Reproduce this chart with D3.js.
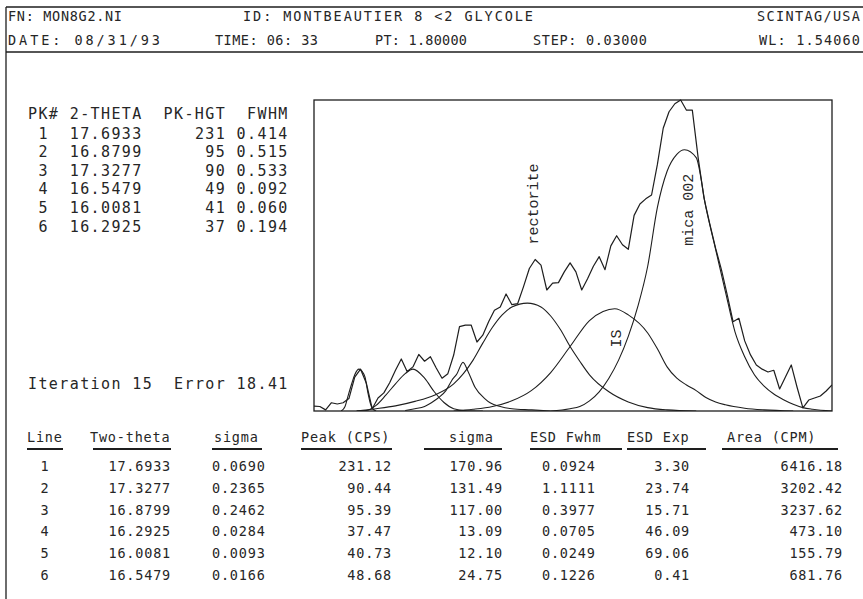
<!DOCTYPE html>
<html><head><meta charset="utf-8">
<script src="https://cdn.jsdelivr.net/npm/d3@7"></script>
<style>
body{margin:0;background:#fff}
svg{display:block}
text{font-family:"DejaVu Sans Mono",monospace;fill:#262626;white-space:pre}
</style>
</head><body>
<svg id="c" width="863" height="599"></svg>
<script>
// ---------------- data ----------------
const header1 = ["FN: MON8G2.NI", "ID: MONTBEAUTIER 8 <2 GLYCOLE", "SCINTAG/USA"];
const header2 = ["DATE: 08/31/93", "TIME: 06: 33", "PT: 1.80000", "STEP: 0.03000", "WL: 1.54060"];

const pkHeader = ["PK#", "2-THETA", "PK-HGT", "FWHM"];
const pkNum   = ["1","2","3","4","5","6"];
const pkTheta = ["17.6933","16.8799","17.3277","16.5479","16.0081","16.2925"];
const pkHgt   = ["231","95","90","49","41","37"];
const pkFwhm  = ["0.414","0.515","0.533","0.092","0.060","0.194"];
const iterText = "Iteration 15  Error 18.41";

const tblHeader = ["Line","Two-theta","sigma","Peak (CPS)","sigma","ESD Fwhm","ESD Exp","Area (CPM)"];
const lineNo   = ["1","2","3","4","5","6"];
const twoTheta = ["17.6933","17.3277","16.8799","16.2925","16.0081","16.5479"];
const sigmaTh  = ["0.0690","0.2365","0.2462","0.0284","0.0093","0.0166"];
const peakCps  = ["231.12","90.44","95.39","37.47","40.73","48.68"];
const sigmaPk  = ["170.96","131.49","117.00","13.09","12.10","24.75"];
const esdFwhm  = ["0.0924","1.1111","0.3977","0.0705","0.0249","0.1226"];
const esdExp   = ["3.30","23.74","15.71","46.09","69.06","0.41"];
const areaCpm  = ["6416.18","3202.42","3237.62","473.10","155.79","681.76"];

const obsStart = 15.78, obsStep = 0.03;
const obsCps = [4.4,4,1,7.3,6.2,7.3,11,30,37,24.5,
  2,11.5,16,25,36,46,35,39,50,44,
  48,38,29,33,49.5,74.6,76,76,61,67,
  79,89,92,103.5,94,95,110,126,134,129,
  107,113,113.5,123,131,123,107,117,128,136.5,
  125,146,155,147,143,173,183,187.6,191,218,
  250,264.6,271.7,275,266,266,224,188.5,165.5,144,
  125,102.7,79,82,62,49.6,40.7,37,34.5,36,
  19.5,30,40.7,21,2.7,9.7,11.5,13.3,17.7,23];

// fitted component profiles [2-theta, cps]
const compMica = [[17.00,0],[17.10,2],[17.15,4],[17.20,9],[17.25,17],[17.30,29],[17.35,45],[17.40,66],[17.45,93],[17.50,128],[17.55,180],[17.60,212],[17.65,227],[17.69,231],[17.75,224],[17.80,180],[17.85,143],[17.90,106],[17.95,70],[18.00,48],[18.05,32],[18.10,22],[18.15,15],[18.20,10],[18.25,6],[18.30,3],[18.35,1.5],[18.45,0]];
const compIS = [[16.50,0],[16.60,1.5],[16.70,4],[16.80,9],[16.90,18],[17.00,34],[17.10,57],[17.20,80],[17.27,88],[17.33,90.4],[17.40,85],[17.50,69],[17.55,55],[17.60,39],[17.65,29],[17.70,23],[17.75,18],[17.80,12],[17.85,8],[17.90,5.5],[18.00,2.5],[18.10,1],[18.25,0]];
const compRect = [[16.00,0],[16.10,2],[16.20,4.5],[16.30,8.5],[16.40,14],[16.50,24],[16.55,33],[16.60,45],[16.65,60],[16.70,74],[16.75,85],[16.80,92],[16.88,95.4],[16.95,92],[17.00,84],[17.05,72],[17.10,57],[17.15,44],[17.20,32],[17.30,17],[17.40,8],[17.50,3],[17.60,1],[17.75,0]];
const comp4 = [[16.00,0],[16.05,0.5],[16.10,5],[16.15,14],[16.20,24],[16.25,33],[16.29,37],[16.35,29],[16.40,17],[16.45,7.5],[16.50,2],[16.55,0.5],[16.65,0]];
const comp5 = [[15.92,0],[15.94,4],[15.955,13],[15.976,25],[15.99,32],[16.012,37],[16.028,35],[16.043,30],[16.058,16],[16.07,7],[16.08,2.5],[16.10,0]];
const comp6 = [[16.25,0.5],[16.30,2],[16.35,4],[16.40,9],[16.42,11.5],[16.46,18],[16.49,27],[16.517,33],[16.548,43],[16.574,35],[16.61,21],[16.66,11],[16.69,7],[16.74,4],[16.80,2],[16.90,1],[17.00,0]];

const labels = [{text:"rectorite", t:16.919, v:183}, {text:"mica 002", t:17.713, v:178}, {text:"IS", t:17.342, v:64}];
const xDomain = [15.78, 18.45];
const yDomain = [0, 275];

// ---------------- drawing ----------------
const svg = d3.select("#c");
svg.append("rect").attr("width",863).attr("height",599).attr("fill","#fff");
const ink = "#1e1e1e";

// outer frame
const frame = svg.append("g").attr("stroke", ink).attr("stroke-width", 1.3);
frame.append("line").attr("x1",6).attr("y1",7).attr("x2",863).attr("y2",7);
frame.append("line").attr("x1",6).attr("y1",52).attr("x2",863).attr("y2",52);
frame.append("line").attr("x1",6).attr("y1",7).attr("x2",6).attr("y2",599);

// header
const hx1 = [[8,122],[243,533],[757,860]];
const hx2 = [[8,160],[215,318],[375,467],[533,647],[759,860]];
header1.forEach((s,i)=> svg.append("text").attr("x",hx1[i][0]).attr("y",21).attr("font-size",13.5)
  .attr("textLength",hx1[i][1]-hx1[i][0]).attr("lengthAdjust","spacing").text(s));
header2.forEach((s,i)=> svg.append("text").attr("x",hx2[i][0]).attr("y",45).attr("font-size",13.5)
  .attr("textLength",hx2[i][1]-hx2[i][0]).attr("lengthAdjust","spacing").text(s));

// left peak table (fixed pitch grid)
const pitch = 10.43, col0 = 28;
const L = svg.append("g").attr("font-size",15).attr("letter-spacing","1.4px");
const colX = c => col0 + c*pitch;
const pkCols = [0,4,13,21];
pkHeader.forEach((s,i)=> L.append("text").attr("x",colX(pkCols[i])).attr("y",119).text(s));
const rowY = i => 138.5 + i*18.6;
pkNum.forEach((s,i)=>{
  L.append("text").attr("x",colX(1)).attr("y",rowY(i)).text(s);
  L.append("text").attr("x",colX(4)).attr("y",rowY(i)).text(pkTheta[i]);
  L.append("text").attr("x",colX(19 - pkHgt[i].length)).attr("y",rowY(i)).text(pkHgt[i]);
  L.append("text").attr("x",colX(20)).attr("y",rowY(i)).text(pkFwhm[i]);
});
L.append("text").attr("x",colX(0)).attr("y",389).text(iterText);

// bottom table
const B = svg.append("g").attr("font-size",13.5).attr("letter-spacing","0.8px");
const hdrX = [27,90,214,301,449,530,627,727];
tblHeader.forEach((s,i)=> B.append("text").attr("x",hdrX[i]).attr("y",442).text(s));
const ul = [[27,63],[93,171],[212,262],[301,392],[424,502],[530,622],[627,706],[722,838]];
ul.forEach(u=> svg.append("line").attr("x1",u[0]).attr("x2",u[1]).attr("y1",449).attr("y2",449)
  .attr("stroke",ink).attr("stroke-width",1.8));
const cols = [
  {d:lineNo, x:45, a:"middle"}, {d:twoTheta, x:171, a:"end"}, {d:sigmaTh, x:212, a:"start"},
  {d:peakCps, x:392, a:"end"}, {d:sigmaPk, x:503, a:"end"}, {d:esdFwhm, x:542, a:"start"},
  {d:esdExp, x:690, a:"end"}, {d:areaCpm, x:843, a:"end"}];
const bRowY = i => 471 + i*21.8;
cols.forEach(c=> c.d.forEach((s,i)=> B.append("text").attr("x",c.x).attr("y",bRowY(i))
  .attr("text-anchor",c.a).text(s)));

// plot
const px0 = 314, px1 = 832, py0 = 100, py1 = 411;
const x = d3.scaleLinear().domain(xDomain).range([px0, px1]);
const y = d3.scaleLinear().domain(yDomain).range([py1, py0]);
const plot = svg.append("g");
plot.append("clipPath").attr("id","clip").append("rect")
  .attr("x",px0).attr("y",py0-2).attr("width",px1-px0).attr("height",py1-py0+2);
plot.append("rect").attr("x",px0).attr("y",py0).attr("width",px1-px0).attr("height",py1-py0)
  .attr("fill","none").attr("stroke",ink).attr("stroke-width",1.3);

const g = plot.append("g").attr("clip-path","url(#clip)");
const compLine = d3.line().x(d=>x(d[0])).y(d=>y(d[1])).curve(d3.curveMonotoneX);
[compMica, compIS, compRect, comp4, comp5, comp6].forEach(c=>
  g.append("path").attr("d",compLine(c)).attr("fill","none").attr("stroke",ink).attr("stroke-width",1.1));
const obsLine = d3.line().x((d,i)=>x(obsStart + i*obsStep)).y(d=>y(d));
g.append("path").attr("d",obsLine(obsCps)).attr("fill","none").attr("stroke",ink)
  .attr("stroke-width",1.2).attr("stroke-linejoin","round");

labels.forEach(l=> plot.append("text")
  .attr("transform",`translate(${x(l.t)},${y(l.v)}) rotate(-90)`)
  .attr("text-anchor","middle").attr("dominant-baseline","central")
  .style("font-family","'Liberation Mono', monospace").attr("font-size",15).text(l.text));
</script>
</body></html>
